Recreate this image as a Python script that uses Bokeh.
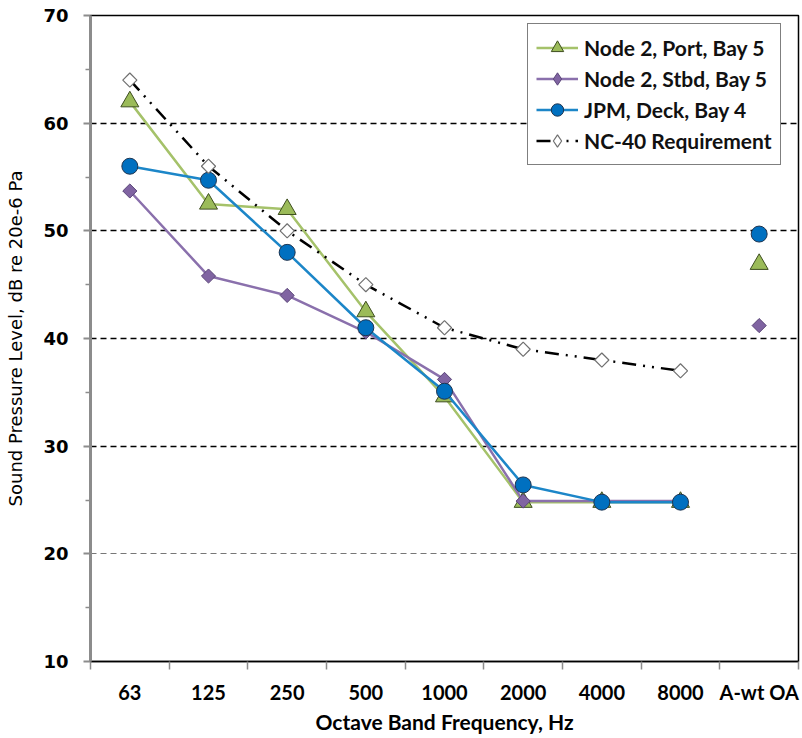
from bokeh.plotting import figure
from bokeh.models import FixedTicker, Legend, LegendItem, Grid
from bokeh.embed import file_html
from bokeh.resources import INLINE

categories = ["63", "125", "250", "500", "1000", "2000", "4000", "8000", "A-wt OA"]
node2_port = [62.0, 52.5, 52.0, 42.5, 34.6, 24.8, 24.8, 24.8, 46.9]
node2_stbd = [53.7, 45.8, 44.0, 40.6, 36.2, 24.9, 24.9, 24.9, 41.2]
jpm_deck = [56.0, 54.7, 48.0, 41.0, 35.1, 26.4, 24.8, 24.8, 49.7]
nc40_req = [64.0, 56.0, 50.0, 45.0, 41.0, 39.0, 38.0, 37.0, float("nan")]
y_ticks = [10, 20, 30, 40, 50, 60, 70]
y_minor = [15, 25, 35, 45, 55, 65]

n = len(categories)
xs = [i + 0.5 for i in range(n)]
n_bands = n - 1  # lines connect octave bands only
NAN = float("nan")

p = figure(width=802, height=738, x_range=(0, n), y_range=(10, 70),
           output_backend="svg", toolbar_location=None,
           min_border_left=90, min_border_top=15, min_border_bottom=77, min_border_right=4)
p.background_fill_color = "white"
p.border_fill_color = "white"
p.outline_line_color = "black"
p.outline_line_width = 1.5

# grid
p.xgrid.visible = False
p.ygrid.ticker = FixedTicker(ticks=[30, 40, 50, 60])
p.ygrid.grid_line_color = "black"
p.ygrid.grid_line_dash = "6 4"
p.ygrid.grid_line_width = 1.5
g20 = Grid(dimension=1, ticker=FixedTicker(ticks=[20]), grid_line_color="#777777",
           grid_line_dash="6 4", grid_line_width=1)
p.add_layout(g20)

# x axis
xa = p.xaxis[0]
xa.ticker = FixedTicker(ticks=xs, minor_ticks=list(range(n + 1)))
xa.major_label_overrides = {x: c for x, c in zip(xs, categories)}
xa.major_tick_out = 0
xa.major_tick_in = 0
xa.minor_tick_out = 8
xa.minor_tick_in = 0
xa.minor_tick_line_color = "#8C8C8C"
xa.minor_tick_line_width = 1.5
xa.axis_line_color = "black"
xa.axis_line_width = 1.5
xa.major_label_standoff = 10
xa.major_label_text_font = "Lato"
xa.major_label_text_font_style = "bold"
xa.major_label_text_font_size = "20px"
xa.major_label_text_color = "black"
xa.axis_label = "Octave Band Frequency, Hz"
xa.axis_label_text_font = "Lato"
xa.axis_label_text_font_style = "bold"
xa.axis_label_text_font_size = "21px"
xa.axis_label_text_color = "black"
xa.axis_label_standoff = 2

# y axis
ya = p.yaxis[0]
ya.ticker = FixedTicker(ticks=y_ticks, minor_ticks=y_minor)
ya.axis_line_color = "#8C8C8C"
ya.axis_line_width = 3
ya.major_tick_out = 7
ya.major_tick_in = 0
ya.minor_tick_out = 5
ya.minor_tick_in = 0
ya.major_tick_line_color = "#8C8C8C"
ya.major_tick_line_width = 2
ya.minor_tick_line_color = "#8C8C8C"
ya.minor_tick_line_width = 1.5
ya.major_label_standoff = 15
ya.major_label_text_font = "DejaVu Sans"
ya.major_label_text_font_style = "bold"
ya.major_label_text_font_size = "18px"
ya.major_label_text_color = "black"
ya.axis_label = "Sound Pressure Level, dB re 20e-6 Pa"
ya.axis_label_text_font = "DejaVu Sans"
ya.axis_label_text_font_style = "normal"
ya.axis_label_text_font_size = "18px"
ya.axis_label_text_color = "black"
ya.axis_label_standoff = 14

# series
items = []

l1 = p.line(xs[:n_bands], node2_port[:n_bands], line_color="#A5C26A", line_width=2.5)
s1 = p.scatter(xs, node2_port, marker="triangle", size=18, fill_color="#9BBB59",
               line_color="#3E4E1F", line_width=1)
items.append(LegendItem(label="Node 2, Port, Bay 5", renderers=[l1, s1]))

l2 = p.line(xs[:n_bands], node2_stbd[:n_bands], line_color="#8A70AC", line_width=2.5)
s2 = p.scatter(xs, node2_stbd, marker="square", angle=0.7854, size=10, fill_color="#8064A2",
               line_color="#5A4578", line_width=1)
# legend-only key glyph (not drawn in the plot: NaN position)
k2 = p.scatter(x=[NAN], y=[NAN], marker="diamond", fill_color="#8064A2",
               line_color="#5A4578", line_width=1)
items.append(LegendItem(label="Node 2, Stbd, Bay 5", renderers=[l2, k2]))

l3 = p.line(xs[:n_bands], jpm_deck[:n_bands], line_color="#1C86C8", line_width=2.5)
s3 = p.scatter(xs, jpm_deck, marker="circle", size=16, fill_color="#0070C0",
               line_color="#1F3550", line_width=1)
items.append(LegendItem(label="JPM, Deck, Bay 4", renderers=[l3, s3]))

l4 = p.line(xs[:n_bands], nc40_req[:n_bands], line_color="black", line_width=2.5,
            line_dash="14 7 2 7 2 7")
s4 = p.scatter(xs[:n_bands], nc40_req[:n_bands], marker="square", angle=0.7854, size=10,
               fill_color="white", line_color="#707070", line_width=1.2)
k4 = p.scatter(x=[NAN], y=[NAN], marker="diamond", fill_color="white",
               line_color="#707070", line_width=1.2)
items.append(LegendItem(label="NC-40 Requirement", renderers=[l4, k4]))

legend = Legend(items=items, location=(437, 496))
legend.label_text_font = "Lato"
legend.label_text_font_style = "bold"
legend.label_text_font_size = "21px"
legend.label_text_color = "#111111"
legend.glyph_width = 42
legend.glyph_height = 31
legend.label_height = 26
legend.label_standoff = 6
legend.spacing = 0
legend.padding = 8
legend.margin = 0
legend.border_line_color = "black"
legend.border_line_width = 1.5
legend.background_fill_color = "white"
legend.background_fill_alpha = 1.0
p.add_layout(legend)

open("out.html", "w").write(file_html(p, INLINE))
